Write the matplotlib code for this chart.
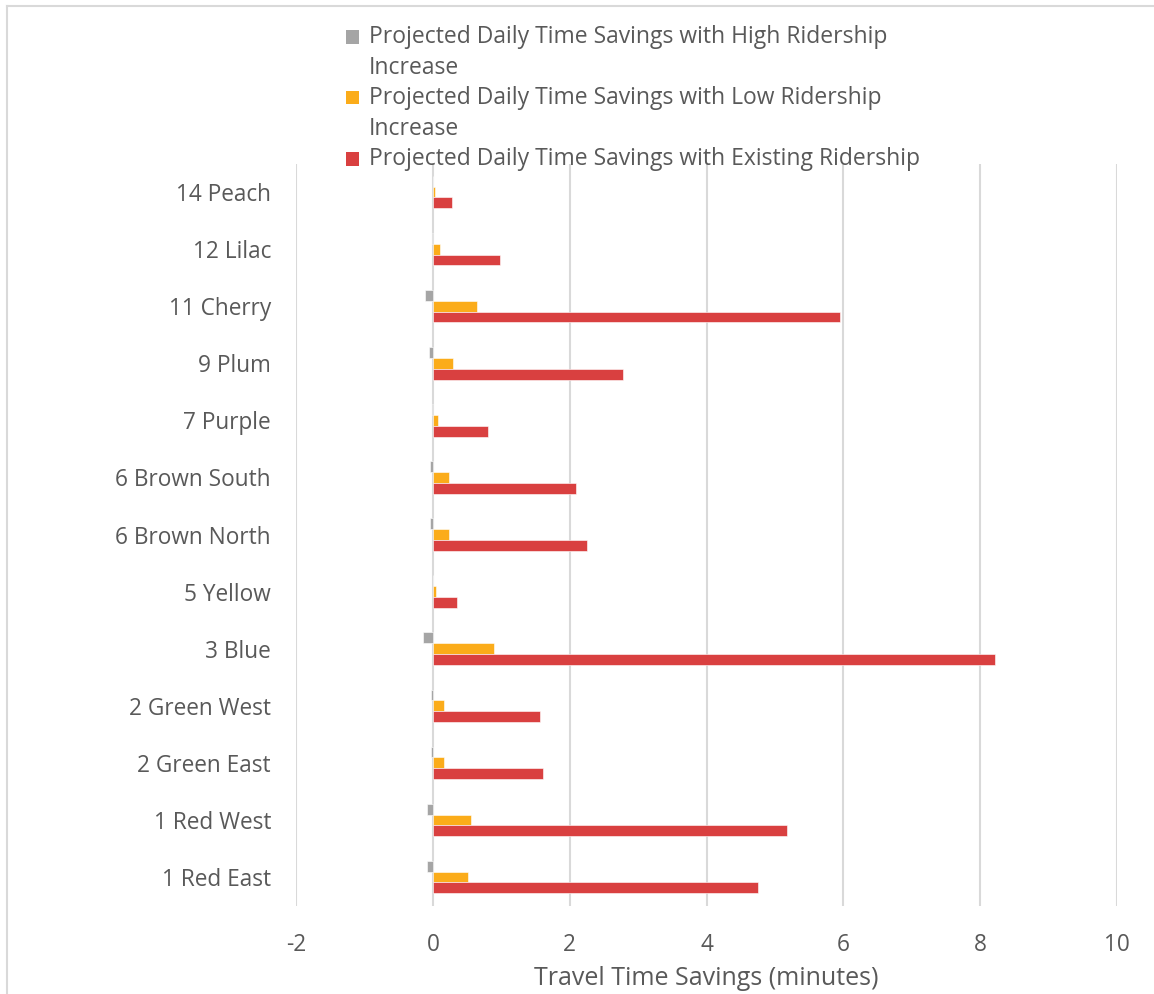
import numpy as np
import matplotlib
matplotlib.use("Agg")
import matplotlib.pyplot as plt
from matplotlib.patches import Rectangle
from matplotlib.lines import Line2D

plt.rcParams["font.family"] = ["Open Sans", "DejaVu Sans"]
plt.rcParams["axes.unicode_minus"] = False

# routes listed top to bottom
routes = [
    "14 Peach", "12 Lilac", "11 Cherry", "9 Plum", "7 Purple",
    "6 Brown South", "6 Brown North", "5 Yellow", "3 Blue",
    "2 Green West", "2 Green East", "1 Red West", "1 Red East",
]
high_increase = [0.0, -0.01, -0.11, -0.05, -0.01, -0.04, -0.04, 0.0, -0.15, -0.02, -0.02, -0.09, -0.09]
low_increase = [0.03, 0.11, 0.64, 0.30, 0.08, 0.23, 0.24, 0.04, 0.89, 0.17, 0.17, 0.56, 0.52]
existing = [0.28, 0.98, 5.95, 2.78, 0.80, 2.09, 2.25, 0.36, 8.21, 1.56, 1.61, 5.18, 4.76]

series_names = [
    "Projected Daily Time Savings with High Ridership\nIncrease",
    "Projected Daily Time Savings with Low Ridership\nIncrease",
    "Projected Daily Time Savings with Existing Ridership",
]
colors = ["#A5A5A5", "#FBAC1A", "#D94040"]
text_color = "#595959"
grid_color = "#D9D9D9"

W, H = 1154, 994
fig = plt.figure(figsize=(W / 100, H / 100), dpi=100)
ax = fig.add_axes([296 / W, 1 - 905.6 / H, (1117 - 296) / W, (905.6 - 163.5) / H])

y = np.arange(len(routes))
bar_h = 0.19
for vals, off, c in zip([high_increase, low_increase, existing], [-bar_h, 0, bar_h], colors):
    ax.barh(y + off, vals, height=bar_h, color=c, edgecolor="white", linewidth=0.4)

ax.set_xlim(-2, 10)
ax.set_ylim(len(routes) - 0.5, -0.5)
ax.set_xticks(np.arange(-2, 11, 2))
ax.set_yticks(y)
ax.set_yticklabels(routes)
ax.grid(axis="x", color=grid_color, linewidth=1.5)
ax.set_axisbelow(True)
for s in ax.spines.values():
    s.set_visible(False)
ax.tick_params(axis="both", length=0, labelsize=16.3, colors=text_color)
ax.tick_params(axis="y", pad=18)
ax.tick_params(axis="x", pad=20)
ax.set_xlabel("Travel Time Savings (minutes)", fontsize=18, color=text_color, labelpad=6)

# legend drawn by hand: swatch on the first line, wrapped lines below it
line_step = 31
legend_y = [37, 98, 159]
for name, c, ly in zip(series_names, colors, legend_y):
    fig.patches.append(Rectangle((346 / W, 1 - (ly + 6.5) / H), 12.5 / W, 13 / H,
                                 transform=fig.transFigure, color=c, linewidth=0))
    for i, line in enumerate(name.split("\n")):
        fig.text(369 / W, 1 - (ly + i * line_step) / H, line, fontsize=16.5,
                 color=text_color, va="center", ha="left")

# chart area edge along the top and left
fig.add_artist(Line2D([7 / W, 7 / W], [0, 1 - 6 / H], color=grid_color, linewidth=1.5))
fig.add_artist(Line2D([7 / W, 1], [1 - 6 / H, 1 - 6 / H], color=grid_color, linewidth=1.5))

fig.savefig("out.png", dpi=100)
